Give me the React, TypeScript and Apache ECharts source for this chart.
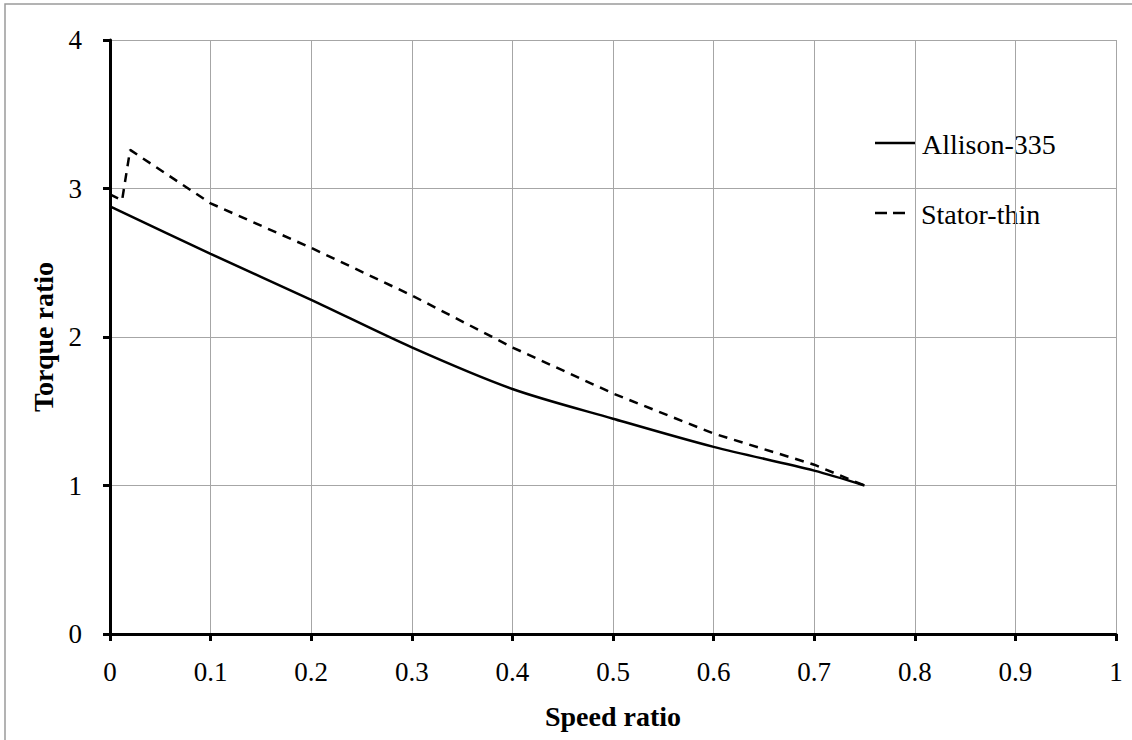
import React, { useEffect, useRef } from "react";
import * as echarts from "echarts";

const allisonX = [0, 0.1, 0.2, 0.3, 0.4, 0.5, 0.6, 0.7, 0.75];
const allisonY = [2.88, 2.56, 2.25, 1.93, 1.65, 1.45, 1.26, 1.1, 1.0];
const statorX = [0, 0.012, 0.02, 0.1, 0.2, 0.3, 0.4, 0.5, 0.6, 0.7, 0.75];
const statorY = [2.96, 2.92, 3.26, 2.9, 2.6, 2.28, 1.93, 1.62, 1.35, 1.14, 1.0];
const seriesNames = ["Allison-335", "Stator-thin"];
const xTitle = "Speed ratio";
const yTitle = "Torque ratio";

const FONT = "Liberation Serif";

export default function App() {
  const ref = useRef<HTMLDivElement>(null);
  useEffect(() => {
    document.body.style.margin = "0";
    const chart = echarts.init(ref.current!, null, { renderer: "svg" });
    const zip = (xs: number[], ys: number[]) => xs.map((x, i) => [x, ys[i]]);
    const legendTextStyle = (t: string) => ({
      text: t,
      fontFamily: FONT,
      fontSize: 28,
      fill: "#000",
      verticalAlign: "middle",
      align: "left",
    });
    chart.setOption({
      animation: false,
      backgroundColor: "#ffffff",
      textStyle: { fontFamily: FONT, color: "#000" },
      graphic: [
        {
          type: "rect",
          shape: { x: 5, y: 4, width: 1300, height: 1000 },
          style: { fill: "none", stroke: "#9a9a9a", lineWidth: 1.5 },
          silent: true,
        },
        {
          type: "line",
          shape: { x1: 875, y1: 143, x2: 915, y2: 143 },
          style: { stroke: "#000", lineWidth: 2.5 },
          silent: true,
        },
        { type: "text", x: 922, y: 144, style: legendTextStyle(seriesNames[0]), silent: true },
        {
          type: "line",
          shape: { x1: 875, y1: 213, x2: 905, y2: 213 },
          style: { stroke: "#000", lineWidth: 2.5, lineDash: [12, 6] },
          silent: true,
        },
        { type: "text", x: 921, y: 214, style: legendTextStyle(seriesNames[1]), silent: true },
      ],
      grid: { left: 110, right: 16, top: 40, bottom: 106, containLabel: false },
      xAxis: {
        type: "value",
        min: 0,
        max: 1,
        interval: 0.1,
        name: xTitle,
        nameLocation: "middle",
        nameGap: 68,
        nameTextStyle: { fontFamily: FONT, fontSize: 28, fontWeight: "bold", color: "#000" },
        axisLine: { show: true, onZero: false, lineStyle: { color: "#000", width: 3 } },
        axisTick: { show: true, inside: false, length: 7, lineStyle: { color: "#000", width: 3 } },
        axisLabel: { fontFamily: FONT, fontSize: 27, color: "#000", margin: 24 },
        splitLine: { show: true, lineStyle: { color: "#a6a6a6", width: 1 } },
      },
      yAxis: {
        type: "value",
        min: 0,
        max: 4,
        interval: 1,
        name: yTitle,
        nameLocation: "middle",
        nameGap: 48,
        nameTextStyle: { fontFamily: FONT, fontSize: 28, fontWeight: "bold", color: "#000" },
        axisLine: { show: true, onZero: false, lineStyle: { color: "#000", width: 3 } },
        axisTick: { show: true, inside: false, length: 7, lineStyle: { color: "#000", width: 3 } },
        axisLabel: { fontFamily: FONT, fontSize: 27, color: "#000", margin: 28 },
        splitLine: { show: true, lineStyle: { color: "#a6a6a6", width: 1 } },
      },
      series: [
        {
          name: seriesNames[0],
          type: "line",
          data: zip(allisonX, allisonY),
          symbol: "none",
          smooth: 0.3,
          lineStyle: { color: "#000", width: 2.5, type: "solid" },
          itemStyle: { color: "#000" },
        },
        {
          name: seriesNames[1],
          type: "line",
          data: zip(statorX, statorY),
          symbol: "none",
          lineStyle: { color: "#000", width: 2.5, type: [9, 7] },
          itemStyle: { color: "#000" },
        },
      ],
    });
    return () => chart.dispose();
  }, []);
  return <div ref={ref} style={{ width: 1132, height: 740 }} />;
}
